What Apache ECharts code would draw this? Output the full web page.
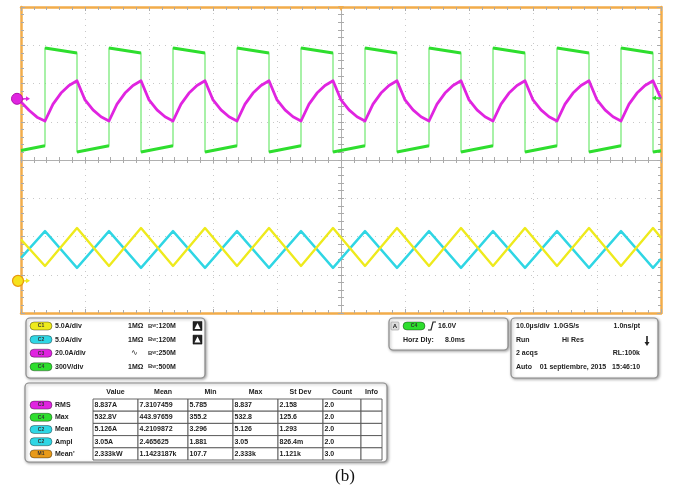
<!DOCTYPE html>
<html>
<head>
<meta charset="utf-8">
<script src="https://cdn.jsdelivr.net/npm/echarts@6/dist/echarts.min.js"></script>
<style>
  html, body { margin: 0; padding: 0; background: #fff; }
  #chart { width: 676px; height: 491px; }
</style>
</head>
<body>
<div id="chart"></div>
<script>
// time in µs from screen centre (10 µs/div), amplitude in divisions
const c4Volts = [
  [-50, 0.25],
  [-46.25, 0.37], [-46.25, 2.93], [-41.25, 2.80], [-41.25, 0.21],
  [-36.25, 0.37], [-36.25, 2.93], [-31.25, 2.80], [-31.25, 0.21],
  [-26.25, 0.37], [-26.25, 2.93], [-21.25, 2.80], [-21.25, 0.21],
  [-16.25, 0.37], [-16.25, 2.93], [-11.25, 2.80], [-11.25, 0.21],
  [-6.25, 0.37], [-6.25, 2.93], [-1.25, 2.80], [-1.25, 0.21],
  [3.75, 0.37], [3.75, 2.93], [8.75, 2.80], [8.75, 0.21],
  [13.75, 0.37], [13.75, 2.93], [18.75, 2.80], [18.75, 0.21],
  [23.75, 0.37], [23.75, 2.93], [28.75, 2.80], [28.75, 0.21],
  [33.75, 0.37], [33.75, 2.93], [38.75, 2.80], [38.75, 0.21],
  [43.75, 0.37], [43.75, 2.93], [48.75, 2.80], [48.75, 0.21],
  [50, 0.24]
];

const c3Current = [
  [-50, 1.52], [-48.75, 1.30], [-47.5, 1.12],
  [-46.25, 1.02], [-45, 1.46], [-43.75, 1.75], [-42.5, 1.95], [-41.25, 2.07], [-40, 1.57], [-38.75, 1.31], [-37.5, 1.13],
  [-36.25, 1.02], [-35, 1.46], [-33.75, 1.75], [-32.5, 1.95], [-31.25, 2.07], [-30, 1.57], [-28.75, 1.31], [-27.5, 1.13],
  [-26.25, 1.02], [-25, 1.46], [-23.75, 1.75], [-22.5, 1.95], [-21.25, 2.07], [-20, 1.57], [-18.75, 1.31], [-17.5, 1.13],
  [-16.25, 1.02], [-15, 1.46], [-13.75, 1.75], [-12.5, 1.95], [-11.25, 2.07], [-10, 1.57], [-8.75, 1.31], [-7.5, 1.13],
  [-6.25, 1.02], [-5, 1.46], [-3.75, 1.75], [-2.5, 1.95], [-1.25, 2.07], [0, 1.57], [1.25, 1.31], [2.5, 1.13],
  [3.75, 1.02], [5, 1.46], [6.25, 1.75], [7.5, 1.95], [8.75, 2.07], [10, 1.57], [11.25, 1.31], [12.5, 1.13],
  [13.75, 1.02], [15, 1.46], [16.25, 1.75], [17.5, 1.95], [18.75, 2.07], [20, 1.57], [21.25, 1.31], [22.5, 1.13],
  [23.75, 1.02], [25, 1.46], [26.25, 1.75], [27.5, 1.95], [28.75, 2.07], [30, 1.57], [31.25, 1.31], [32.5, 1.13],
  [33.75, 1.02], [35, 1.46], [36.25, 1.75], [37.5, 1.95], [38.75, 2.07], [40, 1.57], [41.25, 1.31], [42.5, 1.13],
  [43.75, 1.02], [45, 1.46], [46.25, 1.75], [47.5, 1.95], [48.75, 2.07], [50, 1.60]
];

const c2Current = [
  [-50, -2.56],
  [-46.25, -1.86], [-41.25, -2.82], [-36.25, -1.86], [-31.25, -2.82],
  [-26.25, -1.86], [-21.25, -2.82], [-16.25, -1.86], [-11.25, -2.82],
  [-6.25, -1.86], [-1.25, -2.82], [3.75, -1.86], [8.75, -2.82],
  [13.75, -1.86], [18.75, -2.82], [23.75, -1.86], [28.75, -2.82],
  [33.75, -1.86], [38.75, -2.82], [43.75, -1.86], [48.75, -2.82],
  [50, -2.58]
];

const c1Current = [
  [-50, -2.08],
  [-46.25, -2.77], [-41.25, -1.78], [-36.25, -2.77], [-31.25, -1.78],
  [-26.25, -2.77], [-21.25, -1.78], [-16.25, -2.77], [-11.25, -1.78],
  [-6.25, -2.77], [-1.25, -1.78], [3.75, -2.77], [8.75, -1.78],
  [13.75, -2.77], [18.75, -1.78], [23.75, -2.77], [28.75, -1.78],
  [33.75, -2.77], [38.75, -1.78], [43.75, -2.77], [48.75, -1.78],
  [50, -2.03]
];

// channel ground / trigger markers (divisions)
const c3Ground = 1.6;
const c1Ground = -3.16;
const c4TrigLevel = 1.62;

// channel info panel
const chanLabels = ['C1', 'C2', 'C3', 'C4'];
const chanScales = ['5.0A/div', '5.0A/div', '20.0A/div', '300V/div'];
const chanCoupling = ['1MΩ', '1MΩ', '∿', '1MΩ'];
const chanBandwidth = ['120M', '120M', '250M', '500M'];

// measurement table
const measHeaders = ['Value', 'Mean', 'Min', 'Max', 'St Dev', 'Count', 'Info'];
const measSources = ['C3', 'C4', 'C2', 'C2', 'M1'];
const measNames = ['RMS', 'Max', 'Mean', 'Ampl', "Mean'"];
const measValues = [
  ['8.837A', '7.3107459', '5.785', '8.837', '2.158', '2.0', ''],
  ['532.8V', '443.97659', '355.2', '532.8', '125.6', '2.0', ''],
  ['5.126A', '4.2109872', '3.296', '5.126', '1.293', '2.0', ''],
  ['3.05A', '2.465625', '1.881', '3.05', '826.4m', '2.0', ''],
  ['2.333kW', '1.1423187k', '107.7', '2.333k', '1.121k', '3.0', '']
];

const colors = {
  C1: '#eeea1c', C2: '#2fd6e4', C3: '#e024e0', C4: '#2ede2e', M1: '#e89a1a'
};
const frameColor = '#f2ac4a';
const FONT = 'bold 7px "Liberation Sans", Arial, sans-serif';

const chart = echarts.init(document.getElementById('chart'), null, { renderer: 'canvas' });

// flats of the square wave are thicker (noise), edges thin
const c4Flats = [];
c4Volts.forEach((p, i) => {
  if (i > 0 && c4Volts[i - 1][0] === p[0]) c4Flats.push([p[0], '-']);
  c4Flats.push(p);
});

function frameAxis(pos, isX) {
  return {
    type: 'value', position: pos,
    min: isX ? -50 : -4, max: isX ? 50 : 4, interval: isX ? 10 : 1,
    axisLine: { show: true, onZero: false, lineStyle: { color: frameColor, width: 2.5 } },
    axisTick: { show: true, inside: true, length: 4, lineStyle: { color: '#aaa' } },
    minorTick: { show: true, splitNumber: 5, length: 3, lineStyle: { color: '#aaa' } },
    axisLabel: { show: false },
    splitLine: { show: false }
  };
}
function centreAxis(isX, inside) {
  return {
    type: 'value', position: isX ? 'bottom' : 'left',
    min: isX ? -50 : -4, max: isX ? 50 : 4, interval: isX ? 10 : 1,
    axisLine: { show: true, onZero: true, onZeroAxisIndex: 0, lineStyle: { color: '#b0b0b0', width: 1 } },
    axisTick: { show: true, inside: inside, length: 3, lineStyle: { color: '#aaa' } },
    minorTick: { show: true, splitNumber: 5, length: 3, lineStyle: { color: '#aaa' } },
    axisLabel: { show: false },
    splitLine: { show: false }
  };
}

const xGrid = frameAxis('bottom', true);
xGrid.splitLine = { show: true, lineStyle: { color: '#c8c8c8', type: [1, 5], width: 1 } };
const yGrid = frameAxis('left', false);
yGrid.splitLine = { show: true, lineStyle: { color: '#c8c8c8', type: [1, 5], width: 1 } };

function lineSeries(name, data, color, width, z) {
  return {
    name, type: 'line', data, xAxisIndex: 0, yAxisIndex: 0,
    symbol: 'none', smooth: false, z: z || 2,
    lineStyle: { color, width, join: 'round' }, animation: false
  };
}

const option = {
  animation: false,
  backgroundColor: '#fff',
  grid: { left: 21, right: 15, top: 7, bottom: 178, containLabel: false },
  xAxis: [xGrid, frameAxis('top', true), centreAxis(true, true), centreAxis(true, false)],
  yAxis: [yGrid, frameAxis('right', false), centreAxis(false, true), centreAxis(false, false)],
  series: [
    lineSeries('C4', c4Volts, '#6ee86e', 1.2, 3),
    lineSeries('C4 flats', c4Flats, colors.C4, 3, 3),
    lineSeries('C3', c3Current, colors.C3, 2.8, 4),
    lineSeries('C2', c2Current, colors.C2, 2.4, 3),
    lineSeries('C1', c1Current, colors.C1, 2.4, 4)
  ]
};
chart.setOption(option);

// ---- scope chrome: markers and info panels ----
function txt(x, y, s, extra) {
  return {
    type: 'text', silent: true, z: 20,
    style: Object.assign({
      text: s, x, y, fill: '#222', font: FONT,
      textAlign: 'left', textVerticalAlign: 'middle', align: 'left', verticalAlign: 'middle'
    }, extra || {})
  };
}
function box(x, y, w, h, r, fill, stroke, lw, shadow) {
  const st = { fill, stroke, lineWidth: lw || 1 };
  if (shadow) Object.assign(st, { shadowBlur: 3, shadowColor: 'rgba(0,0,0,0.35)', shadowOffsetX: 1, shadowOffsetY: 1 });
  return { type: 'rect', silent: true, z: 19, shape: { x, y, width: w, height: h, r }, style: st };
}
function pill(x, y, label) {
  const c = colors[label.slice(0, 2)] || colors.M1;
  return [
    box(x, y - 4, 22, 8, 4, c, 'rgba(0,0,0,0.45)', 0.8),
    txt(x + 11, y, label, { font: 'bold 5px "Liberation Sans", sans-serif', textAlign: 'center', align: 'center', fill: '#333' })
  ];
}
function tri(points, fill) {
  return { type: 'polygon', silent: true, z: 21, shape: { points }, style: { fill } };
}

const g = [];
const px = (x, y) => chart.convertToPixel({ xAxisIndex: 0, yAxisIndex: 0 }, [x, y]);

// channel markers
const m3 = px(-50, c3Ground);
g.push({ type: 'circle', silent: true, z: 21, shape: { cx: m3[0] - 4, cy: m3[1], r: 5.5 }, style: { fill: colors.C3, stroke: '#b010b0', lineWidth: 1 } });
g.push(txt(m3[0] - 4, m3[1] + 0.5, '3', { textAlign: 'center', align: 'center', font: 'bold 6px sans-serif', fill: '#333', z: 22 }));
g.push({ type: 'line', silent: true, z: 21, shape: { x1: m3[0] + 2, y1: m3[1], x2: m3[0] + 6, y2: m3[1] }, style: { stroke: colors.C3, lineWidth: 1.5 } });
g.push(tri([[m3[0] + 5, m3[1] - 2.5], [m3[0] + 9, m3[1]], [m3[0] + 5, m3[1] + 2.5]], colors.C3));

const m1 = px(-50, c1Ground);
g.push({ type: 'circle', silent: true, z: 21, shape: { cx: m1[0] - 3, cy: m1[1], r: 5.5 }, style: { fill: '#f6e21c', stroke: '#e8980e', lineWidth: 1.2 } });
g.push(txt(m1[0] - 3, m1[1] + 0.5, '1', { textAlign: 'center', align: 'center', font: 'bold 6px sans-serif', fill: '#333', z: 22 }));
g.push({ type: 'line', silent: true, z: 21, shape: { x1: m1[0] + 3, y1: m1[1], x2: m1[0] + 6, y2: m1[1] }, style: { stroke: colors.C1, lineWidth: 1.5 } });
g.push(tri([[m1[0] + 5, m1[1] - 2.5], [m1[0] + 9, m1[1]], [m1[0] + 5, m1[1] + 2.5]], colors.C1));

const m4 = px(50, c4TrigLevel);
g.push(tri([[m4[0] - 9, m4[1]], [m4[0] - 5, m4[1] - 2.5], [m4[0] - 5, m4[1] + 2.5]], colors.C4));
g.push({ type: 'line', silent: true, z: 21, shape: { x1: m4[0] - 6, y1: m4[1], x2: m4[0], y2: m4[1] }, style: { stroke: colors.C4, lineWidth: 1.5 } });

const mt = px(0, 4);
g.push(tri([[mt[0] - 3, mt[1] - 1], [mt[0] + 3, mt[1] - 1], [mt[0], mt[1] + 4]], frameColor));

// channel panel
g.push(box(26, 318, 179, 60, 4, '#fff', '#8a8a8a', 1.2, true));
chanLabels.forEach((c, i) => {
  const y = 326 + i * 13.6;
  g.push(...pill(30, y, c));
  g.push(txt(55, y, chanScales[i]));
  g.push(txt(chanCoupling[i] === '∿' ? 131 : 128, y, chanCoupling[i], chanCoupling[i] === '∿' ? { font: '8px "DejaVu Sans"' } : {}));
  g.push(txt(148, y, '{b|B}{w|W}:' + chanBandwidth[i], { rich: { b: { font: 'bold 6px "Liberation Sans"', fill: '#333' }, w: { font: 'bold 4px "Liberation Sans"', fill: '#333' } } }));
  if (i < 2) {
    g.push(box(193, y - 4.5, 9, 9, 0, '#222', '#111', 0.5));
    g.push(tri([[197.5, y - 3], [200.5, y + 3], [194.5, y + 3]], '#fff'));
  }
});

// trigger panel
g.push(box(389, 318, 119, 32, 4, '#fff', '#8a8a8a', 1.2, true));
g.push(box(391, 322, 8, 8, 1, '#ddd', '#999', 0.6));
g.push(txt(395, 326, 'A', { textAlign: 'center', align: 'center', font: 'bold 6px "Liberation Sans"' }));
g.push(...pill(403, 326, 'C4'));
g.push({ type: 'polyline', silent: true, z: 21, shape: { points: [[428, 330], [431, 330], [433, 322], [436, 322]] }, style: { stroke: '#222', lineWidth: 1.2, fill: null } });
g.push(txt(438, 326, '16.0V'));
g.push(txt(403, 340, 'Horz Dly:'));
g.push(txt(445, 340, '8.0ms'));

// timebase panel
g.push(box(511, 318, 147, 60, 4, '#fff', '#8a8a8a', 1.2, true));
g.push(txt(516, 326, '10.0µs/div  1.0GS/s'));
g.push(txt(640, 326, '1.0ns/pt', { textAlign: 'right', align: 'right' }));
g.push(txt(516, 340, 'Run'));
g.push(txt(562, 340, 'Hi Res'));
g.push({ type: 'line', silent: true, z: 21, shape: { x1: 647, y1: 336, x2: 647, y2: 343 }, style: { stroke: '#222', lineWidth: 1.6 } });
g.push(tri([[644.5, 342], [649.5, 342], [647, 346]], '#222'));
g.push(txt(516, 353, '2 acqs'));
g.push(txt(640, 353, 'RL:100k', { textAlign: 'right', align: 'right' }));
g.push(txt(516, 367, 'Auto    01 septiembre, 2015   15:46:10'));

// measurement panel
const colEdges = [93, 138, 188, 233, 278, 323, 361, 382];
const rowTop = 399, rowH = 12.2;
g.push(box(25, 383, 362, 79, 4, '#fff', '#8a8a8a', 1.2, true));
measHeaders.forEach((h, j) => {
  g.push(txt((colEdges[j] + colEdges[j + 1]) / 2, 392, h, { textAlign: 'center', align: 'center' }));
});
measNames.forEach((n, i) => {
  const yc = rowTop + rowH * (i + 0.5);
  g.push(...pill(30, yc, measSources[i]));
  g.push(txt(55, yc, n));
  measValues[i].forEach((v, j) => {
    g.push(box(colEdges[j], rowTop + rowH * i, colEdges[j + 1] - colEdges[j], rowH, 0, '#fff', '#555', 0.9));
    if (v) g.push(txt(colEdges[j] + 1.5, yc, v));
  });
});

g.push(txt(345, 477, '(b)', { textAlign: 'center', align: 'center', font: '17px "Liberation Serif", "DejaVu Serif", serif', fill: '#111' }));

chart.setOption({ graphic: { elements: g } });
</script>
</body>
</html>
